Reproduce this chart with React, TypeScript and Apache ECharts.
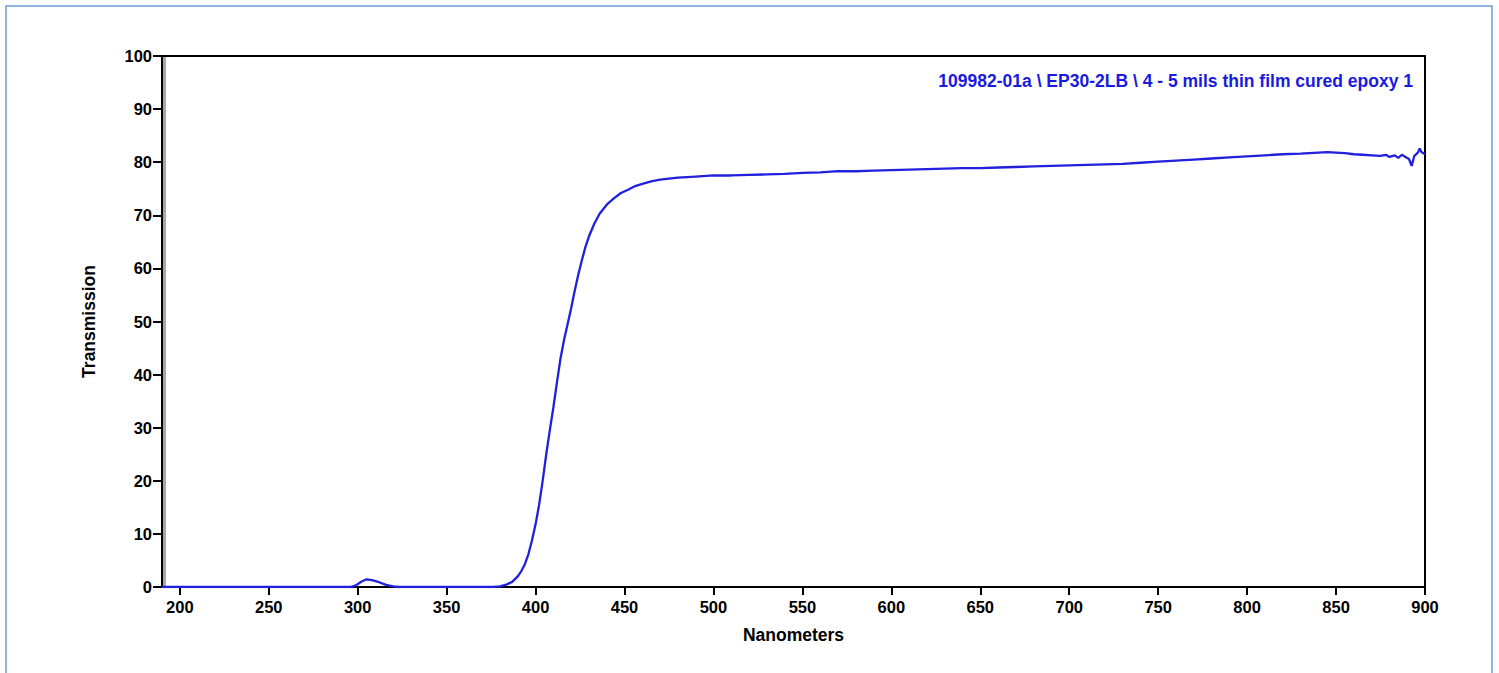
import React, { useEffect, useRef } from "react";
import * as echarts from "echarts";

const seriesName = "109982-01a \\ EP30-2LB \\ 4 - 5 mils thin film cured epoxy 1";
const xTicks = [200, 250, 300, 350, 400, 450, 500, 550, 600, 650, 700, 750, 800, 850, 900];
const wavelengths = [
  190, 296, 299, 302, 305, 308, 312, 316, 320, 323, 376, 380, 384, 387, 390, 392, 394, 396, 398, 400,
  402, 404, 406, 408, 410, 412, 414, 416, 418, 420, 422, 424, 426, 428, 430, 433, 436, 440, 444, 448,
  452, 456, 460, 465, 470, 475, 480, 490, 500, 510, 520, 530, 540, 550, 560, 570, 580, 590, 600, 610,
  620, 630, 640, 650, 660, 670, 680, 690, 700, 710, 720, 730, 740, 750, 760, 770, 780, 790, 800, 810,
  820, 830, 840, 845, 850, 855, 860, 865, 870, 875, 878, 880, 883, 885, 887, 889, 891, 892.5, 894, 896,
  897, 898, 900,
];
const transmission = [
  0, 0, 0.3, 1.0, 1.45, 1.3, 0.9, 0.4, 0.1, 0, 0, 0.1, 0.5, 1.0, 2.0, 3.0, 4.3, 6.2, 8.8, 11.8,
  15.5, 20.0, 25.0, 29.5, 33.8, 38.5, 43.0, 46.5, 49.5, 52.5, 55.8, 58.8, 61.5, 64.0, 66.0, 68.4, 70.3, 72.0, 73.2, 74.2,
  74.8, 75.5, 75.9, 76.4, 76.7, 76.9, 77.1, 77.3, 77.5, 77.5, 77.6, 77.7, 77.8, 78.0, 78.1, 78.3, 78.3, 78.4, 78.5, 78.6,
  78.7, 78.8, 78.9, 78.9, 79.0, 79.1, 79.2, 79.3, 79.4, 79.5, 79.6, 79.7, 79.9, 80.1, 80.3, 80.5, 80.7, 80.9, 81.1, 81.3,
  81.5, 81.6, 81.8, 81.9, 81.8, 81.7, 81.5, 81.4, 81.3, 81.2, 81.4, 81.0, 81.3, 80.8, 81.4, 81.0, 80.6, 79.3, 81.2, 81.8,
  82.6, 81.9, 81.5,
];

const FONT = "'Liberation Sans', Arial, sans-serif";

export default function App() {
  const ref = useRef<HTMLDivElement>(null);
  useEffect(() => {
    if (!ref.current) return;
    const chart = echarts.init(ref.current, undefined, { renderer: "svg" });
    const data = wavelengths.map((w, i) => [w, transmission[i]]);
    chart.setOption({
      animation: false,
      backgroundColor: "#ffffff",
      textStyle: { fontFamily: FONT },
      grid: {
        left: 162,
        right: 74,
        top: 56,
        bottom: 86,
        show: true,
        borderColor: "#000000",
        borderWidth: 2,
        backgroundColor: "transparent",
      },
      legend: {
        show: true,
        right: 86,
        top: 72,
        padding: 0,
        itemWidth: 0,
        itemHeight: 0,
        itemGap: 0,
        selectedMode: false,
        data: [{ name: seriesName, icon: "none" }],
        textStyle: { color: "#1a1ae0", fontWeight: "bold", fontSize: 17.5, fontFamily: FONT, padding: 0 },
      },
      xAxis: {
        type: "value",
        min: 190,
        max: 900,
        name: "Nanometers",
        nameLocation: "middle",
        nameGap: 39,
        nameTextStyle: { color: "#000", fontWeight: "bold", fontSize: 17.5, fontFamily: FONT },
        axisLine: { show: true, lineStyle: { color: "#000", width: 2 } },
        axisTick: { show: true, customValues: xTicks, length: 8, lineStyle: { color: "#000", width: 2 } },
        axisLabel: {
          customValues: xTicks,
          color: "#000",
          fontWeight: "bold",
          fontSize: 16.5,
          fontFamily: FONT,
          margin: 11,
        },
        splitLine: { show: false },
      },
      yAxis: {
        type: "value",
        min: 0,
        max: 100,
        interval: 10,
        name: "Transmission",
        nameLocation: "middle",
        nameGap: 64,
        nameRotate: 90,
        nameTextStyle: { color: "#000", fontWeight: "bold", fontSize: 17.5, fontFamily: FONT },
        axisLine: { show: true, lineStyle: { color: "#000", width: 2 } },
        axisTick: { show: true, length: 9, lineStyle: { color: "#000", width: 2 } },
        axisLabel: { color: "#000", fontWeight: "bold", fontSize: 16.5, fontFamily: FONT, margin: 10 },
        splitLine: { show: false },
      },
      graphic: [
        {
          type: "rect",
          shape: { x: 6, y: 6, width: 1486, height: 680 },
          style: { fill: "none", stroke: "#6e9ad4", lineWidth: 1.5 },
          silent: true,
        },
        {
          type: "rect",
          shape: { x: 163, y: 57, width: 3, height: 529 },
          style: { fill: "#a8a8a8" },
          silent: true,
        },
      ],
      series: [
        {
          name: seriesName,
          type: "line",
          data,
          showSymbol: false,
          symbol: "none",
          lineStyle: { color: "#2020dd", width: 2.3 },
          itemStyle: { color: "#2020dd" },
        },
      ],
    });
    return () => chart.dispose();
  }, []);
  return (
    <div
      ref={ref}
      style={{ position: "fixed", left: 0, top: 0, width: 1499, height: 673, background: "#fff" }}
    />
  );
}
